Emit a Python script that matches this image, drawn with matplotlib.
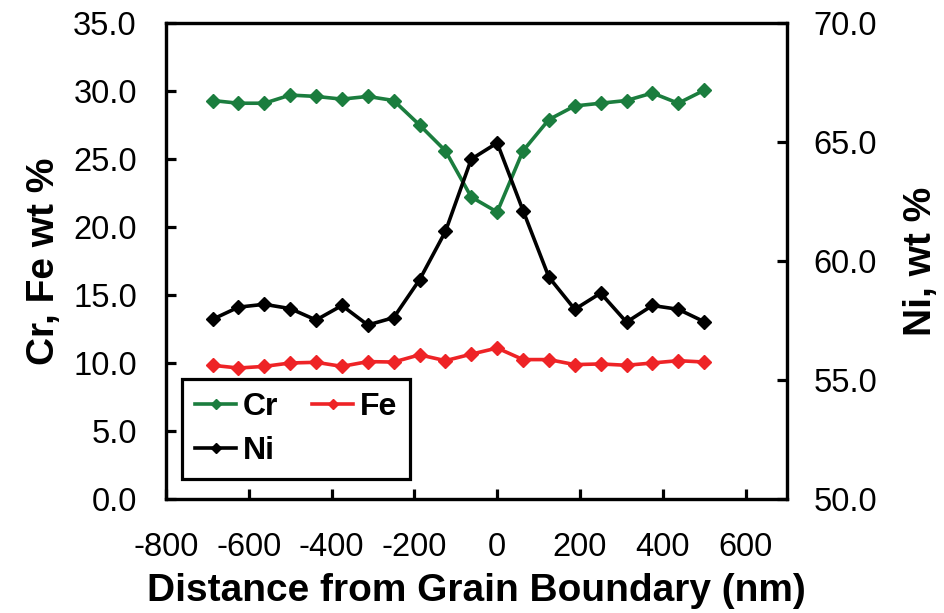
import matplotlib.pyplot as plt
from matplotlib.ticker import FormatStrFormatter

plt.rcParams['font.family'] = ['Liberation Sans', 'DejaVu Sans']
plt.rcParams['axes.unicode_minus'] = False

# distance from grain boundary (nm)
distance = [-687.5, -625, -562.5, -500, -437.5, -375, -312.5, -250, -187.5, -125,
            -62.5, 0, 62.5, 125, 187.5, 250, 312.5, 375, 437.5, 500]

cr_wt = [29.3, 29.1, 29.1, 29.7, 29.6, 29.4, 29.6, 29.3, 27.5, 25.6,
         22.2, 21.1, 25.6, 27.9, 28.9, 29.1, 29.3, 29.85, 29.1, 30.05]
fe_wt = [9.83, 9.63, 9.75, 10.0, 10.05, 9.75, 10.1, 10.07, 10.6, 10.17,
         10.65, 11.1, 10.25, 10.25, 9.88, 9.93, 9.83, 10.0, 10.17, 10.07]
ni_wt = [57.55, 58.06, 58.18, 58.0, 57.52, 58.13, 57.31, 57.62, 59.21, 61.24,
         64.28, 64.96, 62.12, 59.32, 57.97, 58.65, 57.43, 58.13, 57.97, 57.45]

green = '#1b7d3e'
red = '#ee2326'

fig = plt.figure(figsize=(9.45, 6.13), dpi=100)
ax = fig.add_axes([0.1757, 0.186, 0.657, 0.7765])
ax2 = ax.twinx()

lcr, = ax.plot(distance, cr_wt, color=green, lw=2.6, marker='D', ms=7.5, label='Cr')
lfe, = ax.plot(distance, fe_wt, color=red, lw=2.6, marker='D', ms=7.5, label='Fe')
lni, = ax2.plot(distance, ni_wt, color='black', lw=2.6, marker='D', ms=7.5, label='Ni')

ax.set_xlim(-800, 700)
ax.set_ylim(0, 35)
ax2.set_ylim(50, 70)
ax.set_xticks(range(-800, 700, 200))
ax.set_yticks([0, 5, 10, 15, 20, 25, 30, 35])
ax2.set_yticks([50, 55, 60, 65, 70])
ax.yaxis.set_major_formatter(FormatStrFormatter('%.1f'))
ax2.yaxis.set_major_formatter(FormatStrFormatter('%.1f'))

for a in (ax, ax2):
    for s in a.spines.values():
        s.set_linewidth(2.3)
    a.tick_params(direction='in', length=7, width=2.3, labelsize=23.5)
ax.tick_params(axis='x', pad=24)
ax.tick_params(axis='y', pad=21)
ax2.tick_params(axis='y', pad=19)

ax.set_xlabel('Distance from Grain Boundary (nm)', fontsize=28, fontweight='bold', labelpad=7)
ax.set_ylabel('Cr, Fe wt %', fontsize=28, fontweight='bold', labelpad=8)
ax2.set_ylabel('Ni, wt %', fontsize=28, fontweight='bold', labelpad=19)

leg = ax.legend(handles=[lcr, lni, lfe], ncol=2, loc='lower left',
                bbox_to_anchor=(0.026, 0.042, 0.367, 0.204), mode='expand',
                fancybox=False, edgecolor='black', framealpha=1,
                prop={'size': 23, 'weight': 'bold'}, handlelength=1.3,
                handletextpad=0.2, borderaxespad=0, borderpad=0.4,
                labelspacing=0.45, markerscale=0.7)
leg.get_frame().set_linewidth(2.3)

fig.savefig('out.png', dpi=100)
